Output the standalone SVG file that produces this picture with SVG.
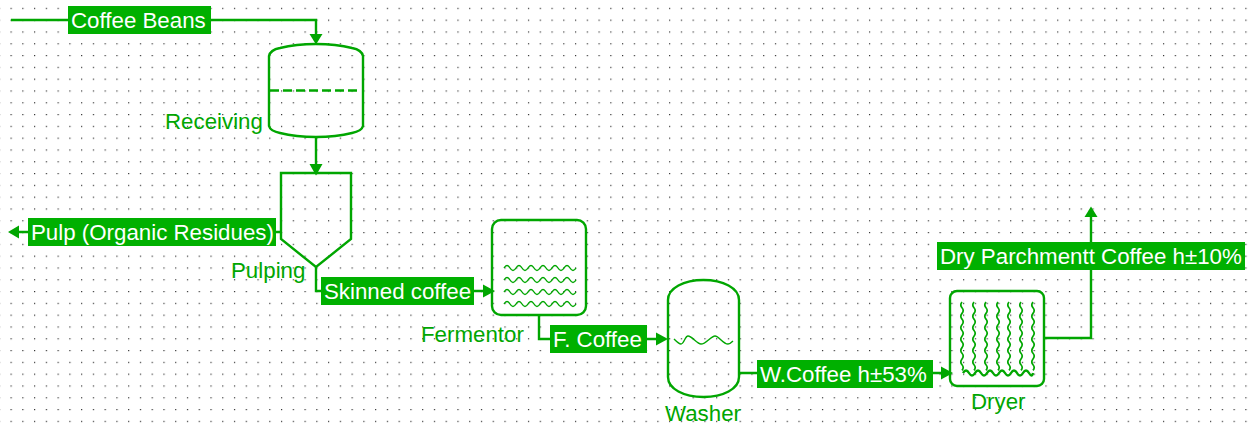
<svg xmlns="http://www.w3.org/2000/svg" width="1248" height="425" viewBox="0 0 1248 425">
<style>
.s{fill:none;stroke:#00a600;stroke-width:2.4}
.w{fill:none;stroke:#00a600;stroke-width:1.4}
.v{fill:none;stroke:#00a600;stroke-width:1.7}
.c{fill:none;stroke:#00a600;stroke-width:2.4}
.a{fill:#00a600}
.b{fill:#00b000}
text{font-family:"Liberation Sans",Arial,sans-serif;font-size:22.3px}
.l{fill:#fff}
.n{fill:#00a600}
</style>
<defs>
<pattern id="dots" x="10.5" y="7.8" width="11.76" height="11.8" patternUnits="userSpaceOnUse"><rect width="1.2" height="1.2" fill="#333"/></pattern>
<path id="wv" d="M0 0q3-5 6 0t6 0 6 0 6 0 6 0 6 0 6 0 6 0 6 0 6 0 6 0 6 0"/>
<path id="vw" d="M0 0q-2.400 3 0 5.700t0 5.700 0 5.700 0 5.700 0 5.700 0 5.700 0 5.700 0 5.700 0 5.700 0 5.700 0 5.700 0 5.700"/>
</defs>
<rect width="1248" height="425" fill="#fff"/>
<rect width="1248" height="425" fill="url(#dots)"/>
<g id="connectors">
<path class="c" d="M11 20H316V36"/><path class="a" d="M309.500 34h13l-6.500 10.500z"/>
<path class="c" d="M316 137V165"/><path class="a" d="M309.500 164h13l-6.500 11.500z"/>
<path class="c" d="M281 232H18"/><path class="a" d="M19 225.500v13l-11-6.500z"/>
<path class="c" d="M316 267V291H484"/><path class="a" d="M483 284.500v13l12-6.500z"/>
<path class="c" d="M539 315V339H657"/><path class="a" d="M656 332.500v13l12-6.500z"/>
<path class="c" d="M739 373H942"/><path class="a" d="M941 366.500v13l12-6.500z"/>
<path class="c" d="M1044 338H1091V216"/><path class="a" d="M1084.500 217h13l-6.500-10.500z"/>
</g>
<g id="receiving">
<path class="s" d="M269 56C270 51 275 49 280 48C292 45 304 44 316 44C328 44 340 45 352 48C357 49 362 51 363 56V126C362 130 357 132 352 133C340 136 328 137 316 137C304 137 292 136 280 133C275 132 270 130 269 126Z"/>
<path class="s" style="stroke-dasharray:9 4" d="M270 90.500H358"/>
<text class="n" x="165" y="129">Receiving</text>
</g>
<g id="pulping">
<path class="s" d="M281 173H351V239L316 267L281 239Z"/>
<text class="n" x="231" y="278">Pulping</text>
</g>
<g id="fermentor">
<rect class="s" x="492" y="220" width="94" height="95" rx="9"/>
<use class="w" href="#wv" x="504" y="268"/><use class="w" href="#wv" x="504" y="280"/><use class="w" href="#wv" x="504" y="292"/><use class="w" href="#wv" x="504" y="304"/>
<text class="n" x="421" y="342">Fermentor</text>
</g>
<g id="washer">
<path class="s" d="M668 300C668 288 684 280 703.500 280C723 280 739 288 739 300V377C739 389 723 397 703.500 397C684 397 668 389 668 377Z"/>
<path class="w" d="M674 339C677 342 679 344 681 344C684 344 685 336 688 336C692 336 697 344 701 344C706 344 711 336 715 336C719 336 723 344 728 344C730 344 732 342 733 341"/>
<text class="n" x="665" y="421">Washer</text>
</g>
<g id="dryer">
<rect class="s" x="950" y="291" width="94" height="95" rx="7"/>
<use class="v" href="#vw" x="962" y="302"/><use class="v" href="#vw" x="974" y="302"/><use class="v" href="#vw" x="986" y="302"/><use class="v" href="#vw" x="998" y="302"/><use class="v" href="#vw" x="1009" y="302"/><use class="v" href="#vw" x="1021" y="302"/><use class="v" href="#vw" x="1033" y="302"/>
<path class="s" d="M963 373q3-5 6 0t6 0 6 0 6 0 6 0 6 0 6 0 6 0 6 0 6 0 6 0 4 0"/>
<text class="n" x="971" y="409">Dryer</text>
</g>
<g id="lbl-beans"><rect class="b" x="68" y="6" width="143" height="28"/><text class="l" x="71" y="28">Coffee Beans</text></g>
<g id="lbl-pulp"><rect class="b" x="28" y="218" width="248" height="28"/><text class="l" x="31" y="240">Pulp (Organic Residues)</text></g>
<g id="lbl-skinned"><rect class="b" x="321" y="277" width="153" height="28"/><text class="l" x="324" y="299">Skinned coffee</text></g>
<g id="lbl-fcoffee"><rect class="b" x="550" y="325" width="97" height="28"/><text class="l" x="553" y="347">F. Coffee</text></g>
<g id="lbl-wcoffee"><rect class="b" x="757" y="360" width="176" height="28"/><text class="l" x="760" y="382">W.Coffee h±53%</text></g>
<g id="lbl-dry"><rect class="b" x="937" y="242" width="308" height="28"/><text class="l" x="940" y="264">Dry Parchmentt Coffee h±10%</text></g>
</svg>
